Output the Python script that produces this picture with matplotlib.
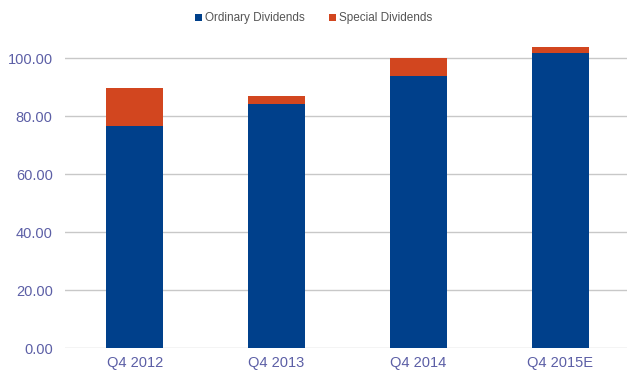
import matplotlib.pyplot as plt
import numpy as np

quarters = ["Q4 2012", "Q4 2013", "Q4 2014", "Q4 2015E"]
ordinary = [76.6, 84.1, 93.8, 101.7]
special = [13.1, 2.8, 6.1, 2.1]

plt.rcParams['font.family'] = ['Liberation Sans', 'DejaVu Sans']

fig = plt.figure(figsize=(6.27, 3.74), dpi=100)
ax = fig.add_axes([0.104, 0.0695, 0.896, 0.814])

x = np.arange(len(quarters))
ax.bar(x, ordinary, width=0.4, color='#00408b', label='Ordinary Dividends', zorder=3)
ax.bar(x, special, width=0.4, bottom=ordinary, color='#d2461f', label='Special Dividends', zorder=3)

ax.set_xlim(-0.49, 3.47)
ax.set_ylim(0, 105)
yt = [0, 20, 40, 60, 80, 100]
ax.set_yticks(yt)
ax.set_yticklabels(["%.2f" % v for v in yt])
ax.set_xticks(x)
ax.set_xticklabels(quarters)
ax.grid(axis='y', color='#c8c8c8', linewidth=1, zorder=0)
for s in ax.spines.values():
    s.set_visible(False)
ax.tick_params(length=0, labelsize=10.5, labelcolor='#5c5fa6', pad=6)
ax.tick_params(axis='y', pad=9)

fig.legend(loc='upper center', bbox_to_anchor=(0.5, 0.995), ncol=2, frameon=False,
           fontsize=8.5, labelcolor='#555555', handlelength=0.6, handleheight=0.6,
           handletextpad=0.3, columnspacing=2.0)

fig.savefig('out.png', dpi=100)
